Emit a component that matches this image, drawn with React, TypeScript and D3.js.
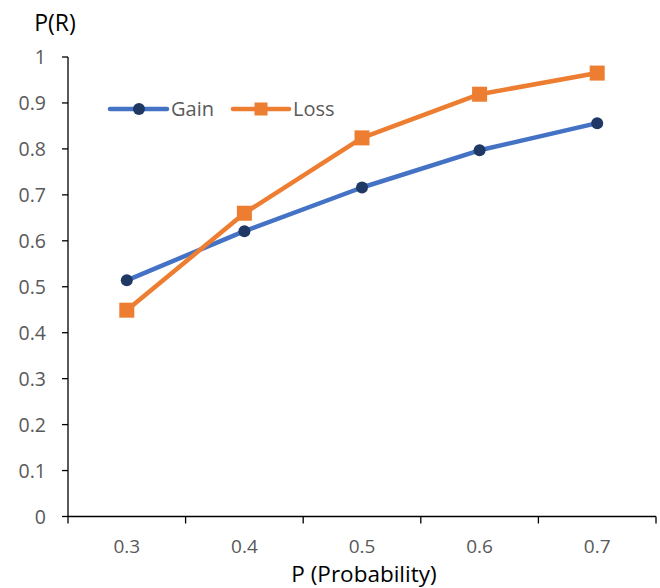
import React from "react";
import * as d3 from "d3";

const categories = ["0.3", "0.4", "0.5", "0.6", "0.7"];
const gainValues = [0.514, 0.621, 0.716, 0.797, 0.856];
const lossValues = [0.449, 0.66, 0.824, 0.919, 0.965];
const yTicks = [0, 0.1, 0.2, 0.3, 0.4, 0.5, 0.6, 0.7, 0.8, 0.9, 1];

const W = 660;
const H = 588;
const left = 68;
const right = 656;
const top = 57;
const bottom = 516.5;
const FONT = "'Open Sans', 'Liberation Sans', sans-serif";
const GAIN = "#4472C4";
const GAIN_MARK = "#1F3864";
const LOSS = "#ED7D31";

export default function App() {
  const x = d3.scaleBand<string>().domain(categories).range([left, right]).padding(0);
  const y = d3.scaleLinear().domain([0, 1]).range([bottom, top]);
  const cx = (c: string) => (x(c) ?? 0) + x.bandwidth() / 2;

  const line = d3
    .line<[string, number]>()
    .x((d) => cx(d[0]))
    .y((d) => y(d[1]));

  const gainPts: [string, number][] = categories.map((c, i) => [c, gainValues[i]]);
  const lossPts: [string, number][] = categories.map((c, i) => [c, lossValues[i]]);
  const boundaries = [...categories.map((c) => x(c) ?? 0), right];

  return (
    <svg width={W} height={H} style={{ position: "absolute", left: 0, top: 0, background: "#fff" }} fontFamily={FONT}>
      <rect width={W} height={H} fill="#fff" />
      {/* y axis */}
      <line x1={left} x2={left} y1={y(1)} y2={bottom} stroke="#000" strokeWidth={1.3} />
      {yTicks.map((t) => (
        <g key={t}>
          <line x1={left - 6} x2={left} y1={y(t)} y2={y(t)} stroke="#000" strokeWidth={1.3} />
          <text x={46} y={y(t)} dy="0.36em" textAnchor="end" fontSize={19.5} fill="#595959">
            {t}
          </text>
        </g>
      ))}
      {/* x axis */}
      <line x1={left} x2={right} y1={bottom} y2={bottom} stroke="#000" strokeWidth={1.3} />
      {boundaries.map((b, i) => (
        <line key={i} x1={b} x2={b} y1={bottom} y2={bottom + 7} stroke="#000" strokeWidth={1.3} />
      ))}
      {categories.map((c) => (
        <text key={c} x={cx(c)} y={546} dy="0.36em" textAnchor="middle" fontSize={19} fill="#595959">
          {c}
        </text>
      ))}
      {/* titles */}
      <text x={55} y={23} dy="0.36em" textAnchor="middle" fontSize={23} fill="#000">
        P(R)
      </text>
      <text x={364} y={574} dy="0.36em" textAnchor="middle" fontSize={22.5} fill="#000">
        P (Probability)
      </text>
      {/* series */}
      <path d={line(gainPts) ?? ""} fill="none" stroke={GAIN} strokeWidth={4.5} strokeLinejoin="round" />
      {gainPts.map((d) => (
        <circle key={d[0]} cx={cx(d[0])} cy={y(d[1])} r={6} fill={GAIN_MARK} />
      ))}
      <path d={line(lossPts) ?? ""} fill="none" stroke={LOSS} strokeWidth={4.5} strokeLinejoin="round" />
      {lossPts.map((d) => (
        <rect key={d[0]} x={cx(d[0]) - 7.5} y={y(d[1]) - 7.5} width={15} height={15} fill={LOSS} />
      ))}
      {/* legend */}
      <line x1={110} x2={167} y1={109} y2={109} stroke={GAIN} strokeWidth={4.5} strokeLinecap="round" />
      <circle cx={139} cy={109} r={6} fill={GAIN_MARK} />
      <text x={171} y={109} dy="0.36em" fontSize={20} fill="#595959">
        Gain
      </text>
      <line x1={233} x2={289} y1={109} y2={109} stroke={LOSS} strokeWidth={4.5} strokeLinecap="round" />
      <rect x={261 - 6.5} y={109 - 6.5} width={13} height={13} fill={LOSS} />
      <text x={293} y={109} dy="0.36em" fontSize={20} fill="#595959">
        Loss
      </text>
    </svg>
  );
}
